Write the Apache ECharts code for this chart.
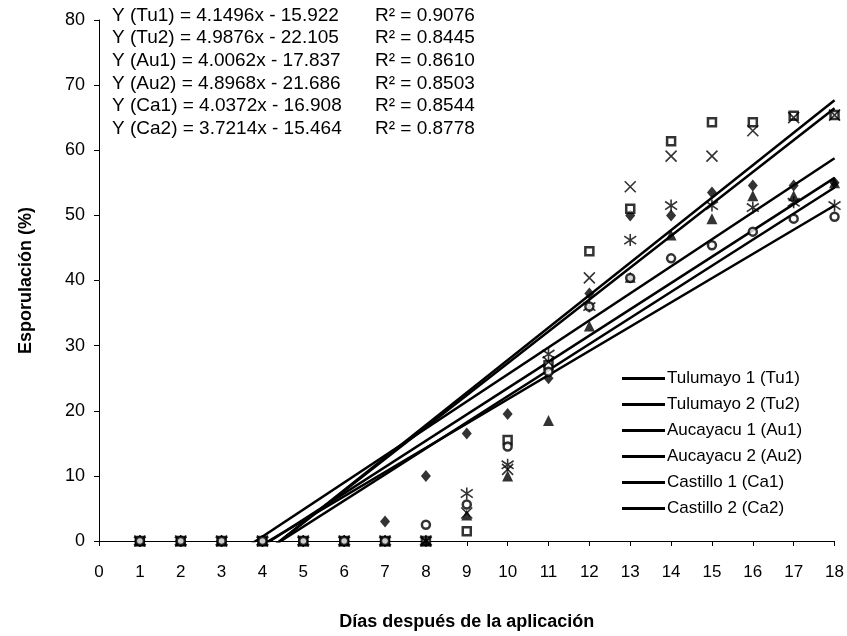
<!DOCTYPE html>
<html>
<head>
<meta charset="utf-8">
<title>Esporulación</title>
<script src="https://cdn.jsdelivr.net/npm/echarts@6/dist/echarts.min.js"></script>
<style>
  html, body { margin: 0; padding: 0; background: #fff; }
  #chart { width: 847px; height: 636px; }
</style>
</head>
<body>
<div id="chart"></div>
<script>
// dias despues de la aplicacion
var dias = [1, 2, 3, 4, 5, 6, 7, 8, 9, 10, 11, 12, 13, 14, 15, 16, 17, 18];
// esporulacion (%) por tratamiento
var tu1 = [0, 0, 0, 0, 0, 0, 3, 10, 16.5, 19.5, 25, 38, 50, 50, 53.5, 54.6, 54.6, 55];
var tu2 = [0, 0, 0, 0, 0, 0, 0, 0, 1.5, 15.5, 27, 44.5, 51, 61.4, 64.3, 64.3, 65.3, 65.4];
var au1 = [0, 0, 0, 0, 0, 0, 0, 0, 4, 10, 18.5, 33, 40.5, 47, 49.5, 53, 53, 55];
var au2 = [0, 0, 0, 0, 0, 0, 0, 0, 4.3, 11, 27.5, 40.4, 54.4, 59.1, 59.1, 63, 65, 65.4];
var ca1 = [0, 0, 0, 0, 0, 0, 0, 0, 7.3, 11.7, 28.7, 36, 46.2, 51.5, 51.5, 51.2, 52, 51.5];
var ca2 = [0, 0, 0, 0, 0, 0, 0, 2.5, 5.6, 14.5, 26, 36, 40.4, 43.4, 45.4, 47.5, 49.5, 49.8];
// lineas de tendencia (ecuaciones del grafico)
var codigos = ['Tu1', 'Tu2', 'Au1', 'Au2', 'Ca1', 'Ca2'];
var nombres = ['Tulumayo 1 (Tu1)', 'Tulumayo 2 (Tu2)', 'Aucayacu 1 (Au1)', 'Aucayacu 2 (Au2)', 'Castillo 1 (Ca1)', 'Castillo 2 (Ca2)'];
var pendientes = [4.1496, 4.9876, 4.0062, 4.8968, 4.0372, 3.7214];
var intercepto = [15.922, 22.105, 17.837, 21.686, 16.908, 15.464];
var r2 = ['0.9076', '0.8445', '0.8610', '0.8503', '0.8544', '0.8778'];

(function() {
  var myChart = echarts.init(document.getElementById('chart'));
  var fuente = '"Liberation Sans", Arial, sans-serif';
  var valores = [tu1, tu2, au1, au2, ca1, ca2];
  // marcadores tipo Excel
  var simbolos = [
    { symbol: 'diamond', size: [10, 12], color: '#000', border: 0 },
    { symbol: 'rect', size: 8, color: '#fff', border: 2.5 },
    { symbol: 'triangle', size: 11, color: '#000', border: 0 },
    { symbol: 'path://M0,0L10,10M10,0L0,10', size: 11, color: 'none', border: 1.6 },
    { symbol: 'path://M5,0L5,10M0.8,1.6L9.2,8.4M9.2,1.6L0.8,8.4', size: 12, color: 'none', border: 1.6 },
    { symbol: 'circle', size: 8, color: '#fff', border: 2.5 }
  ];
  var series = [];
  valores.forEach(function(v, k) {
    var s = simbolos[k];
    series.push({
      name: codigos[k] + ' datos',
      type: 'scatter',
      symbol: s.symbol,
      symbolSize: s.size,
      itemStyle: { color: s.color, borderColor: '#000', borderWidth: s.border },
      data: dias.map(function(d, i) { return [d, v[i]]; }),
      z: 3
    });
  });
  // tendencias: y = a x - b, recortadas en y = 0
  nombres.forEach(function(n, k) {
    series.push({
      name: n,
      type: 'line',
      symbol: 'none',
      clip: true,
      lineStyle: { color: '#000', width: 2.5 },
      itemStyle: { color: '#000' },
      data: [dias[0], dias[dias.length - 1]].map(function(d) {
        return [d, pendientes[k] * d - intercepto[k]];
      }),
      z: 2
    });
  });
  // textos de ecuaciones
  var textos = [];
  codigos.forEach(function(c, k) {
    textos.push({
      type: 'text', left: 112, top: 6 + k * 22.6,
      style: { text: 'Y (' + c + ') = ' + pendientes[k].toFixed(4) + 'x - ' + intercepto[k].toFixed(3),
        font: '19px ' + fuente, fill: '#000' }
    });
    textos.push({
      type: 'text', left: 375, top: 6 + k * 22.6,
      style: { text: 'R² = ' + r2[k], font: '19px ' + fuente, fill: '#000' }
    });
  });
  var option = {
    animation: false,
    backgroundColor: '#fff',
    textStyle: { fontFamily: fuente },
    grid: { left: 99, right: 11, top: 20, bottom: 91 },
    legend: {
      orient: 'vertical',
      left: 622,
      top: 370,
      padding: 0,
      itemWidth: 43,
      itemHeight: 3,
      itemGap: 9,
      icon: 'rect',
      textStyle: { color: '#000', fontSize: 17, padding: [0, 0, 0, -3] },
      data: nombres
    },
    xAxis: {
      type: 'value',
      min: 0,
      max: 18,
      interval: 1,
      name: 'Días después de la aplicación',
      nameLocation: 'middle',
      nameGap: 72,
      nameTextStyle: { color: '#000', fontSize: 18, fontWeight: 'bold' },
      axisLine: { lineStyle: { color: '#000', width: 1 } },
      axisTick: { inside: false, length: 5, lineStyle: { color: '#000' } },
      axisLabel: { color: '#000', fontSize: 17, margin: 23 },
      splitLine: { show: false }
    },
    yAxis: {
      type: 'value',
      min: 0,
      max: 80,
      interval: 10,
      name: 'Esporulación (%)',
      nameLocation: 'middle',
      nameGap: 64,
      nameTextStyle: { color: '#000', fontSize: 18, fontWeight: 'bold' },
      axisLine: { show: true, lineStyle: { color: '#000', width: 1 } },
      axisTick: { show: true, length: 5, lineStyle: { color: '#000' } },
      axisLabel: { color: '#000', fontSize: 18, margin: 14 },
      splitLine: { show: false }
    },
    graphic: textos,
    series: series
  };
  myChart.setOption(option);
  window.addEventListener('resize', function() {
    myChart.resize();
  });
})();
</script>
</body>
</html>
